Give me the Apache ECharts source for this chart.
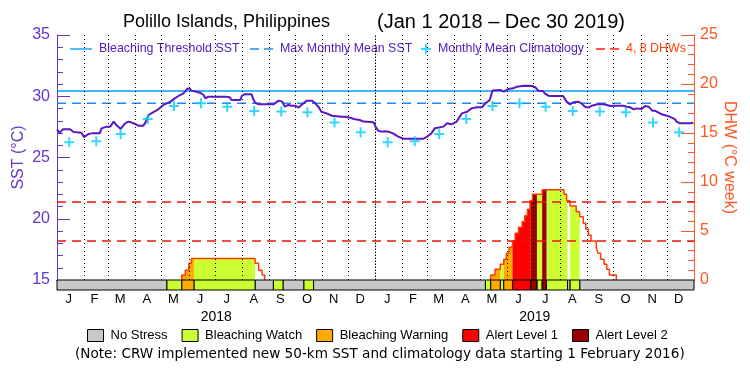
<!DOCTYPE html>
<html><head><meta charset="utf-8">
<script src="https://cdn.jsdelivr.net/npm/echarts@6/dist/echarts.min.js"></script>
<style>html,body{margin:0;padding:0;background:#fff}#c{width:750px;height:375px}</style>
</head><body><div id="c"></div>
<script>
// ---------- DATA ----------
const monthLetters = ['J','F','M','A','M','J','J','A','S','O','N','D'];
// day offsets (from Jan 1 2018) of each month start, plus end of period
const monthStartDays = [0,31,59,90,120,151,181,212,243,273,304,334,365,396,424,455,485,516,546,577,608,638,669,699,730];
const yearLabels = ['2018','2019'];
const climatology = [26.24,26.32,26.92,28.14,29.20,29.42,29.15,28.80,28.75,28.69,27.85,27.06];
const bleachingThreshold = 30.43;
const maxMonthlyMean = 29.43;
const dhwLevels = [4, 8];
// [day, SST]
const sstDaily = [[0,27.30],[3,27.03],[7,27.30],[15,27.30],[19,27.08],[21,27.03],[28,27.03],[31,26.65],[33,26.65],[36,26.92],[40,26.97],[49,26.97],[51,27.38],[57,27.52],[61,27.52],[65,27.93],[68,27.65],[73,27.33],[78,27.79],[82,27.93],[88,27.79],[93,27.60],[99,27.60],[102,27.93],[105,28.47],[110,28.69],[116,28.93],[122,29.29],[130,29.56],[135,29.83],[141,30.10],[145,30.24],[149,30.59],[152,30.65],[154,30.46],[160,30.37],[164,30.29],[168,30.10],[170,29.83],[173,29.95],[193,29.95],[198,29.91],[200,29.69],[210,29.69],[212,30.05],[215,30.16],[223,30.16],[225,29.75],[227,29.48],[231,29.34],[248,29.34],[254,29.64],[258,29.56],[261,29.15],[265,29.29],[269,29.23],[273,29.23],[277,29.07],[280,29.29],[286,29.64],[292,29.64],[296,29.42],[300,29.10],[303,28.74],[309,28.60],[315,28.41],[326,28.33],[330,28.33],[336,28.25],[340,28.14],[347,28.06],[351,27.93],[363,27.87],[365,27.52],[368,27.19],[372,27.11],[376,27.15],[380,27.11],[385,26.97],[391,26.70],[397,26.53],[420,26.53],[424,26.70],[429,26.97],[433,27.38],[443,27.52],[447,27.79],[452,27.71],[454,27.60],[458,27.93],[464,28.60],[470,28.74],[475,29.01],[481,29.10],[487,29.10],[491,29.42],[496,29.69],[499,30.46],[508,30.51],[512,30.37],[517,30.59],[523,30.65],[527,30.78],[533,30.84],[534,30.73],[538,30.86],[544,30.84],[548,30.73],[552,30.43],[557,30.43],[559,30.24],[563,30.05],[567,30.02],[580,30.02],[584,29.56],[588,29.34],[592,29.51],[597,29.56],[601,29.42],[605,29.15],[609,29.07],[613,29.23],[619,29.34],[626,29.34],[630,29.29],[634,29.20],[638,29.23],[649,29.23],[653,29.15],[657,29.10],[661,28.93],[664,29.01],[670,28.96],[674,29.20],[678,29.15],[682,28.82],[685,28.82],[689,28.69],[693,28.53],[699,28.41],[704,28.28],[708,28.14],[710,27.93],[714,27.79],[726,27.79],[729,27.87]];
// DHW step changes [day, DHW]
const dhwSteps = [[143,0.5],[147,1.0],[151,1.7],[154,2.2],[227,1.7],[231,1.0],[235,0.5],[238,0],[497,0.51],[502,1.09],[508,1.6],[512,2.11],[515,2.72],[518,3.33],[522,3.98],[525,4.76],[529,5.37],[533,5.95],[536,6.56],[539,7.21],[542,8.09],[545,8.74],[556,9.2],[581,8.74],[584,8.09],[588,7.55],[595,6.97],[599,6.46],[603,5.78],[606,5.17],[609,4.59],[612,3.98],[618,3.33],[620,2.72],[623,2.11],[627,1.6],[630,1.09],[633,0.51],[641,0]];
// stress runs [startDay, endDay, level]
const stressRuns = [[0,126,0],[126,143,1],[143,157,2],[157,227,1],[227,248,0],[248,259,1],[259,283,0],[283,294,1],[294,491,0],[491,497,1],[497,508,2],[508,512,1],[512,522,2],[522,543,3],[543,550,4],[550,556,1],[556,561,4],[561,585,1],[585,588,0],[588,599,1],[599,730,0]];
const stressNames = ['No Stress','Bleaching Watch','Bleaching Warning','Alert Level 1','Alert Level 2'];

// ---------- STYLE ----------
const stressColors = ['#c8c8c8','#ccff33','#ffaa00','#ff0000','#990000'];
const PURPLE = '#6633cc', ORANGE = '#ff5522';
const FONT = 'Liberation Sans';
const plusPath = 'path://M4,0h2v4h4v2h-4v4h-2v-4h-4v-2h4z';
const linePath = 'path://M0,0h24v1.5h-24z';
const dashPath = 'path://M0,0h9v1.5h-9zM14,0h9v1.5h-9z';

function dhwAt(d){ let v = 0; for (const [sd, sv] of dhwSteps){ if (sd <= d) v = sv; else break; } return v; }

const dayMax = monthStartDays[monthStartDays.length-1];
const monthLabelDays = monthLetters.concat(monthLetters).map((_, i) => (monthStartDays[i] + monthStartDays[i+1]) / 2 - 2);
const yearMidDays = yearLabels.map((_, i) => (monthStartDays[i*12] + monthStartDays[i*12+12]) / 2);
const climData = [];
for (let y = 0; y < 2; y++) for (let m = 0; m < 12; m++) climData.push([monthStartDays[y*12+m] + 14, climatology[m]]);

const dhwOutline = [];
dhwSteps.forEach(([d, v], i) => {
  if (i === 0 || dhwSteps[i-1][1] === 0) dhwOutline.push([d, 0]);
  dhwOutline.push([d, v]);
  if (v === 0) dhwOutline.push(['-', '-']);
});

const barSeries = stressNames.map((name, lvl) => ({
  type: 'custom', name, xAxisIndex: 1, yAxisIndex: 2, z: 6, silent: true,
  itemStyle: { color: stressColors[lvl] },
  encode: { x: [0, 1] },
  data: stressRuns.filter(r => r[2] === lvl).map(r => [r[0], r[1]]),
  renderItem(params, api){
    const p0 = api.coord([api.value(0), 1]), p1 = api.coord([api.value(1), 0]);
    return { type: 'rect', shape: { x: p0[0], y: p0[1], width: p1[0]-p0[0], height: p1[1]-p0[1] },
      style: { fill: stressColors[lvl], stroke: '#000', lineWidth: 1 } };
  }
}));

const areaSeries = stressNames.slice(1).map((name, i) => {
  const lvl = i + 1;
  return {
    type: 'custom', name, xAxisIndex: 0, yAxisIndex: 1, z: 1, silent: true,
    itemStyle: { color: stressColors[lvl] },
    encode: { x: [0, 1] },
    data: stressRuns.filter(r => r[2] === lvl).map(r => [r[0], r[1]]),
    renderItem(params, api){
      const s = api.value(0), e = api.value(1);
      let v = dhwAt(s);
      const pts = [api.coord([s, 0]), api.coord([s, v])];
      for (const [d, val] of dhwSteps){
        if (d > s && d < e){ pts.push(api.coord([d, v])); v = val; pts.push(api.coord([d, v])); }
      }
      pts.push(api.coord([e, v])); pts.push(api.coord([e, 0]));
      return { type: 'polygon', shape: { points: pts }, style: { fill: stressColors[lvl] } };
    }
  };
});

function topLegend(left, width, item, textColor){
  return { top: 43, left, padding: 0, itemWidth: width, itemHeight: 10, selectedMode: false,
    textStyle: { fontSize: 12.4, color: textColor, fontFamily: FONT, padding: [0,0,0,2] },
    data: [item] };
}

const option = {
  animation: false,
  textStyle: { fontFamily: FONT },
  title: [
    { text: 'Polillo Islands, Philippines', left: 123, top: 13, padding: 0, textStyle: { fontSize: 18, fontWeight: 'normal', color: '#000', fontFamily: FONT } },
    { text: '(Jan 1 2018 \u2013 Dec 30 2019)', left: 377, top: 12, padding: 0, textStyle: { fontSize: 20, fontWeight: 'normal', color: '#000', fontFamily: FONT } },
    { text: '(Note: CRW implemented new 50-km SST and climatology data starting 1 February 2016)', left: 75, top: 347, padding: 0, textStyle: { fontSize: 13.6, fontWeight: 'normal', color: '#000', fontFamily: 'DejaVu Sans' } }
  ],
  legend: [
    topLegend(70, 22, { name: 'Bleaching Threshold SST', icon: linePath, itemStyle: { color: '#00a0ff', borderWidth: 0 } }, '#5020c0'),
    topLegend(250, 23, { name: 'Max Monthly Mean SST', icon: dashPath, itemStyle: { color: '#1e8ce6', borderWidth: 0 } }, '#5020c0'),
    topLegend(421, 10, { name: 'Monthly Mean Climatology', icon: plusPath, itemStyle: { color: '#00ccff', borderWidth: 0 } }, '#5020c0'),
    topLegend(596, 23, { name: '4, 8 DHWs', icon: dashPath, itemStyle: { color: '#ff2200', borderWidth: 0 } }, '#ff4400'),
    { top: 329, left: 87, padding: 0, itemWidth: 16, itemHeight: 12, itemGap: 14, selectedMode: false,
      textStyle: { fontSize: 13, color: '#000', fontFamily: FONT, padding: [0,0,0,2] },
      data: stressNames.map((n, i) => ({ name: n, icon: 'rect', itemStyle: { color: stressColors[i], borderColor: '#000', borderWidth: 1 } })) }
  ],
  grid: [
    { left: 57, right: 56, top: 35, height: 245, outerBoundsMode: 'none', containLabel: false },
    { left: 57, right: 56, top: 280, height: 10, outerBoundsMode: 'none', containLabel: false }
  ],
  xAxis: [
    { gridIndex: 0, type: 'value', min: 0, max: dayMax, position: 'top',
      axisLine: { show: true, lineStyle: { color: '#000', width: 1 } }, axisTick: { show: false }, axisLabel: { show: false }, splitLine: { show: false } },
    { gridIndex: 1, type: 'value', min: 0, max: dayMax, position: 'bottom',
      axisLine: { show: false }, axisTick: { show: false }, splitLine: { show: false },
      axisLabel: { customValues: monthLabelDays, margin: 3, fontSize: 13, color: '#000',
        formatter: v => monthLetters[monthLabelDays.indexOf(v) % 12] } },
    { gridIndex: 1, type: 'value', min: 0, max: dayMax, position: 'bottom',
      axisLine: { show: false }, axisTick: { show: false }, splitLine: { show: false },
      axisLabel: { customValues: yearMidDays, margin: 20, fontSize: 14, color: '#000',
        formatter: v => yearLabels[yearMidDays.indexOf(v)] } }
  ],
  yAxis: [
    { gridIndex: 0, type: 'value', min: 15, max: 35, interval: 5, position: 'left',
      axisLine: { show: true, lineStyle: { color: PURPLE, width: 1 } },
      axisTick: { show: true, inside: true, length: 13, lineStyle: { color: PURPLE } },
      minorTick: { show: true, splitNumber: 5, length: 6, lineStyle: { color: PURPLE } },
      axisLabel: { color: PURPLE, fontSize: 16, margin: 7 },
      splitLine: { show: false },
      name: 'SST (\u00b0C)', nameLocation: 'middle', nameGap: 30, nameRotate: 90, nameMoveOverlap: false,
      nameTextStyle: { color: PURPLE, fontSize: 16 } },
    { gridIndex: 0, type: 'value', min: 0, max: 25, interval: 5, position: 'right',
      axisLine: { show: true, lineStyle: { color: ORANGE, width: 1 } },
      axisTick: { show: true, inside: true, length: 13, lineStyle: { color: ORANGE } },
      minorTick: { show: true, splitNumber: 5, length: 6, lineStyle: { color: ORANGE } },
      axisLabel: { color: ORANGE, fontSize: 16, margin: 6 },
      splitLine: { show: false },
      name: 'DHW (\u00b0C week)', nameLocation: 'middle', nameGap: 27, nameRotate: -90, nameMoveOverlap: false,
      nameTextStyle: { color: ORANGE, fontSize: 16 } },
    { gridIndex: 1, type: 'value', min: 0, max: 1, position: 'left',
      axisLine: { show: true, lineStyle: { color: PURPLE } }, axisTick: { show: false }, axisLabel: { show: false }, splitLine: { show: false } },
    { gridIndex: 1, type: 'value', min: 0, max: 1, position: 'right',
      axisLine: { show: true, lineStyle: { color: ORANGE } }, axisTick: { show: false }, axisLabel: { show: false }, splitLine: { show: false } }
  ],
  series: [
    ...barSeries,
    ...areaSeries,
    { type: 'line', name: 'monthGrid', xAxisIndex: 0, yAxisIndex: 0, data: [], silent: true, z: 2,
      markLine: { symbol: ['none','none'], silent: true, label: { show: false }, animation: false,
        data: monthStartDays.filter(d => d > 0 && d < dayMax).map(d => ({ xAxis: d,
          lineStyle: { type: d === 365 ? [1.5,1.5] : [1,3], color: '#000', width: 1 } })) } },
    { type: 'line', name: 'Bleaching Threshold SST', xAxisIndex: 0, yAxisIndex: 0, color: '#00a0ff',
      data: [[0, bleachingThreshold], [dayMax, bleachingThreshold]], symbol: 'none', z: 3,
      lineStyle: { color: '#00a0ff', width: 1.5 } },
    { type: 'line', name: 'Max Monthly Mean SST', xAxisIndex: 0, yAxisIndex: 0, color: '#1e8ce6',
      data: [[0, maxMonthlyMean], [dayMax, maxMonthlyMean]], symbol: 'none', z: 3,
      lineStyle: { color: '#1e8ce6', width: 1.5, type: [9,6] } },
    { type: 'line', name: '4, 8 DHWs', xAxisIndex: 0, yAxisIndex: 1, color: '#ee1111', data: [], z: 3,
      markLine: { symbol: ['none','none'], silent: true, label: { show: false }, animation: false,
        lineStyle: { color: '#ee1111', width: 1.5, type: [9,6] },
        data: dhwLevels.map(v => ({ yAxis: v })) } },
    { type: 'line', name: 'DHW', xAxisIndex: 0, yAxisIndex: 1, data: dhwOutline, step: 'end',
      symbol: 'none', connectNulls: false, z: 4, lineStyle: { color: '#ff3d00', width: 1.5 } },
    { type: 'line', name: 'SST', xAxisIndex: 0, yAxisIndex: 0, data: sstDaily, symbol: 'none', z: 5,
      lineStyle: { color: '#5b17c4', width: 2 } },
    { type: 'scatter', name: 'Monthly Mean Climatology', xAxisIndex: 0, yAxisIndex: 0, data: climData,
      symbol: plusPath, symbolSize: 10, z: 6, itemStyle: { color: '#00ccff' } }
  ]
};
const chart = echarts.init(document.getElementById('c'), null, { width: 750, height: 375 });
chart.setOption(option);
</script></body></html>
